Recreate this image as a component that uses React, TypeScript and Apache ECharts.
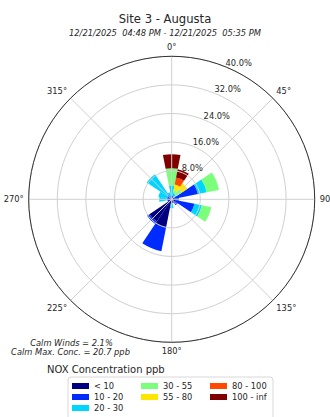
import React, { useEffect, useRef } from "react";
import * as echarts from "echarts";

const TITLE = "Site 3 - Augusta";
const SUBTITLE = "12/21/2025  04:48 PM - 12/21/2025  05:35 PM";
const CALM_WINDS = "Calm Winds = 2.1%";
const CALM_MAX = "Calm Max. Conc. = 20.7 ppb";
const LEGEND_TITLE = "NOX Concentration ppb";

const DIRECTIONS = ["N", "NNE", "NE", "ENE", "E", "ESE", "SE", "SSE", "S", "SSW", "SW", "WSW", "W", "WNW", "NW", "NNW"];
const BINS = ["< 10", "10 - 20", "20 - 30", "30 - 55", "55 - 80", "80 - 100", "100 - inf"];
const BIN_COLORS = ["#000080", "#002bff", "#00d5ff", "#7bff7b", "#ffe600", "#ff4900", "#800000"];

// percent frequency per direction, one array per concentration bin
const BIN_LT10 = [0.5, 0.4, 0.3, 0.8, 1.2, 1.0, 1.5, 0.8, 0.5, 8.0, 7.5, 0.8, 0.5, 0.5, 0.5, 0.3];
const BIN_10_20 = [0.8, 0.6, 0.5, 6.7, 0.8, 5.5, 0.5, 0.3, 0.5, 6.8, 0.8, 0.4, 0.8, 0.8, 1.0, 0.5];
const BIN_20_30 = [2.6, 0.8, 0.8, 2.5, 0, 2.1, 0, 0, 1.5, 0, 0, 0, 2.2, 2.5, 6.9, 1.2];
const BIN_30_55 = [4.8, 0.8, 1.8, 3.5, 0, 2.7, 0, 0, 0, 0, 0, 0, 0, 0, 0, 0];
const BIN_55_80 = [0, 1.6, 1.9, 0, 0, 0, 0, 0, 0, 0, 0, 0, 0, 0, 0, 0];
const BIN_80_100 = [0, 2.0, 0, 0, 0, 0, 0, 0, 0, 0, 0, 0, 0, 0, 0, 0];
const BIN_100_INF = [3.9, 2.4, 0, 0, 0, 0, 0, 0, 0, 0, 0, 0, 0, 0, 0, 0];
const BIN_VALUES = [BIN_LT10, BIN_10_20, BIN_20_30, BIN_30_55, BIN_55_80, BIN_80_100, BIN_100_INF];

const ANGLE_TICKS = [0, 45, 90, 135, 180, 225, 270, 315];
const RADIUS_MAX = 40;
const RADIUS_STEP = 8;

const FONT = "DejaVu Sans";
const TEXT = "#262626";

export default function App() {
  const ref = useRef<HTMLDivElement>(null);
  useEffect(() => {
    if (!ref.current) return;
    const chart = echarts.init(ref.current, null, { renderer: "svg" });
    const center = [171.7, 199.3];
    const radius = 143;
    const option: any = {
      animation: false,
      backgroundColor: "#fff",
      textStyle: { fontFamily: FONT },
      title: [
        {
          text: TITLE,
          left: "center",
          top: 8,
          textStyle: { fontFamily: FONT, fontSize: 11.6, fontWeight: "normal", color: TEXT },
        },
        {
          text: SUBTITLE,
          left: "center",
          top: 24,
          textStyle: { fontFamily: FONT, fontSize: 8.3, fontWeight: "normal", fontStyle: "italic", color: TEXT },
        },
      ],
      polar: [
        { center, radius },
        { center, radius },
        { center, radius },
      ],
      angleAxis: [
        {
          polarIndex: 0,
          type: "category",
          data: DIRECTIONS,
          startAngle: 90 + 360 / DIRECTIONS.length / 2,
          clockwise: true,
          axisLine: { show: false },
          axisTick: { show: false },
          axisLabel: { show: false },
          splitLine: { show: false },
        },
        {
          polarIndex: 1,
          type: "value",
          min: 0,
          max: 360,
          interval: 45,
          startAngle: 90,
          clockwise: true,
          z: 5,
          axisLine: { show: true, lineStyle: { color: "#333", width: 1 } },
          axisTick: { show: false },
          axisLabel: {
            show: true,
            margin: 5,
            fontFamily: FONT,
            fontSize: 8.3,
            color: TEXT,
            formatter: (v: number) => (ANGLE_TICKS.includes(v) ? (v === 90 ? "90" : v + "°") : ""),
          },
          splitLine: { show: true, lineStyle: { color: "#d0d0d0", width: 1 } },
        },
        {
          polarIndex: 2,
          type: "value",
          min: 0,
          max: 360,
          startAngle: 67.5,
          clockwise: true,
          axisLine: { show: false },
          axisTick: { show: false },
          axisLabel: { show: false },
          splitLine: { show: false },
        },
      ],
      radiusAxis: [
        { polarIndex: 0, type: "value", min: 0, max: RADIUS_MAX, axisLine: { show: false }, axisTick: { show: false }, axisLabel: { show: false }, splitLine: { show: false } },
        {
          polarIndex: 1,
          type: "value",
          min: 0,
          max: RADIUS_MAX,
          interval: RADIUS_STEP,
          z: 5,
          axisLine: { show: false },
          axisTick: { show: false },
          axisLabel: { show: false },
          splitLine: { show: true, lineStyle: { color: "#d0d0d0", width: 1 } },
        },
        {
          polarIndex: 2,
          type: "value",
          min: 0,
          max: RADIUS_MAX,
          interval: RADIUS_STEP,
          z: 6,
          axisLine: { show: false },
          axisTick: { show: false },
          splitLine: { show: false },
          axisLabel: {
            show: true,
            margin: 1,
            align: "left",
            verticalAlign: "bottom",
            fontFamily: FONT,
            fontSize: 8.3,
            color: TEXT,
            formatter: (v: number) => (v === 0 ? "" : v.toFixed(1) + "%"),
          },
        },
      ],
      legend: [
        { data: BINS.slice(0, 3), left: 72, top: 382 },
        { data: BINS.slice(3, 5), left: 141, top: 382 },
        { data: BINS.slice(5, 7), left: 210, top: 382 },
      ].map((l) => ({
        ...l,
        orient: "vertical",
        padding: 0,
        itemWidth: 17,
        itemHeight: 6,
        itemGap: 3,
        icon: "rect",
        selectedMode: false,
        textStyle: { fontFamily: FONT, fontSize: 8.3, color: TEXT },
      })),
      graphic: [
        {
          type: "rect",
          shape: { x: 68, y: 377, width: 205, height: 60, r: 3 },
          style: { fill: "#fff", stroke: "#d8d8d8", lineWidth: 1 },
          z: -1,
        },
        {
          type: "text",
          x: 71.5,
          y: 343,
          style: { text: CALM_WINDS, textAlign: "center", textVerticalAlign: "middle", fontFamily: FONT, fontSize: 8.3, fontStyle: "italic", fill: TEXT },
        },
        {
          type: "text",
          x: 70.5,
          y: 352,
          style: { text: CALM_MAX, textAlign: "center", textVerticalAlign: "middle", fontFamily: FONT, fontSize: 8.3, fontStyle: "italic", fill: TEXT },
        },
        {
          type: "text",
          x: 47,
          y: 369,
          style: { text: LEGEND_TITLE, textAlign: "left", textVerticalAlign: "middle", fontFamily: FONT, fontSize: 10, fill: TEXT },
        },
      ],
      series: BINS.map((name, i) => ({
        name,
        type: "bar",
        coordinateSystem: "polar",
        polarIndex: 0,
        stack: "total",
        barCategoryGap: "0%",
        z: 2,
        itemStyle: { color: BIN_COLORS[i] },
        data: BIN_VALUES[i],
      })),
    };
    chart.setOption(option);
    return () => chart.dispose();
  }, []);
  return <div ref={ref} style={{ position: "fixed", left: 0, top: 0, width: 330, height: 417 }} />;
}
